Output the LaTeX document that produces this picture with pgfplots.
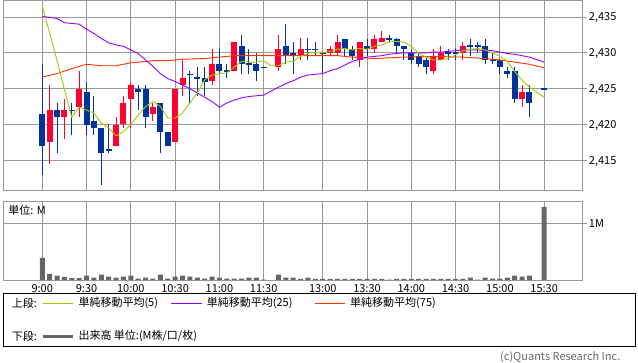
\documentclass[border=0pt]{standalone}
\usepackage{fontspec}
\setmainfont{Noto Sans CJK JP}
\usepackage{pgfplots}
\usepackage{pgfplotstable}
\pgfplotsset{compat=1.18}
\definecolor{cup}{RGB}{255,0,51}
\definecolor{cdn}{RGB}{0,51,153}
\definecolor{cma5}{RGB}{153,204,0}
\definecolor{cma25}{RGB}{153,0,255}
\definecolor{cma75}{RGB}{255,51,0}
\definecolor{cgrid}{RGB}{153,153,153}
\definecolor{cvol}{RGB}{102,102,102}

% up candles (close > open)
\pgfplotstableread{
i o h l c
1 2417.5 2425.5 2414.5 2422
3 2421 2423.5 2418 2422
5 2422.5 2427.5 2421 2425
10 2417 2421 2417 2420
11 2420 2424 2419.5 2423
12 2423.5 2426 2419.5 2425.5
15 2421.5 2423 2420.5 2422.5
18 2417.5 2425 2417.5 2425
19 2425.5 2429 2424 2426.5
23 2426 2430.5 2425.5 2428.5
26 2427.5 2431.5 2427.5 2431.5
32 2428 2432.5 2427.5 2430.5
35 2429.5 2432 2429 2430.5
39 2430 2431 2429.5 2430.5
40 2430 2432.5 2429.5 2431.5
43 2429 2431.5 2428 2431.5
45 2430.5 2432.5 2430 2432
46 2431.5 2433 2431.5 2432
53 2427.5 2430.5 2427 2429.5
54 2429 2431 2429 2430
57 2430 2431.5 2429 2431
65 2423.5 2425.5 2422.5 2424.5
}\upc

% down candles and doji
\pgfplotstableread{
i o h l c
0 2421.5 2428.5 2413 2417
2 2422 2423 2416 2421
4 2422 2423 2418.5 2422
6 2424.5 2426 2418.5 2420
7 2420.5 2424 2418.5 2419.5
8 2419.5 2419.5 2411.5 2416
9 2416.5 2420 2416 2416.5
13 2425 2425.5 2422 2424.5
14 2425 2425.5 2419.5 2421
16 2423 2423 2416 2419
17 2419 2419 2417 2417
20 2427 2427.5 2423 2427
21 2426.5 2428 2424 2426.5
22 2426.5 2428 2424 2426
24 2428.5 2430.5 2427 2427.5
25 2427.5 2428.5 2426.5 2427.5
27 2431 2432.5 2427 2428.5
28 2428.5 2430.5 2427 2428.5
29 2428.5 2430 2426 2427.5
30 2428 2428 2428 2428
33 2431 2434 2428.5 2429.5
34 2430 2431.5 2427 2429.5
36 2430.5 2432 2429 2430.5
37 2430.5 2431.5 2429.5 2430.5
38 2430 2430 2427 2430
41 2432 2432 2429.5 2430.5
42 2430.5 2431 2429 2429.5
44 2431 2432 2429.5 2430.5
47 2432 2432.5 2431.5 2432
48 2432 2432 2430 2431
49 2431 2431 2429 2430.5
50 2430 2430.5 2428.5 2429
51 2429.5 2430 2428 2428.5
52 2429 2429.5 2427 2428
55 2430 2430.5 2429 2430
56 2430 2430.5 2429 2430
58 2431 2432 2429.5 2431
59 2431 2431.5 2430 2431
60 2431 2432 2428.5 2429
61 2429 2430 2428.5 2429
62 2429 2429 2427 2428
63 2427.5 2428 2426.5 2427
64 2427.5 2428 2423 2423.5
66 2424.5 2425.5 2421 2423
68 2425 2425 2425 2425
}\dnc

\pgfplotstableread{
i v
0 2436.5
1 2432.8
2 2428.9
3 2424.9
4 2421.0
5 2422.4
6 2422.0
7 2421.6
8 2420.2
9 2419.5
10 2418.4
11 2419.0
12 2420.0
13 2421.3
14 2422.5
15 2423.2
16 2422.5
17 2420.9
18 2420.9
19 2421.6
20 2423.0
21 2424.4
22 2426.2
23 2426.9
24 2427.1
25 2427.2
26 2428.0
27 2428.8
28 2428.7
29 2428.7
30 2428.9
31 2428.2
32 2428.2
33 2428.7
34 2428.8
35 2429.5
36 2429.9
37 2430.1
38 2430.0
39 2430.2
40 2430.5
41 2430.6
42 2430.4
43 2430.6
44 2430.5
45 2430.9
46 2431.1
47 2431.5
48 2431.6
49 2431.5
50 2430.9
51 2429.9
52 2429.4
53 2429.0
54 2429.0
55 2429.2
56 2429.7
57 2430.3
58 2430.5
59 2430.6
60 2430.4
61 2430.0
62 2429.5
63 2428.8
64 2427.4
65 2426.2
66 2425.2
68 2423.8
}\maf

\pgfplotstableread{
i v
0 2435.1
2 2434.8
3 2434.2
4 2434.1
5 2434.0
6 2433.3
7 2432.7
8 2432.0
9 2431.4
10 2431.1
11 2430.9
12 2430.4
13 2429.9
14 2429.0
15 2428.1
16 2427.1
17 2426.4
18 2426.0
19 2425.5
20 2425.0
21 2424.4
22 2423.8
23 2423.2
24 2422.4
25 2423.0
26 2423.4
27 2423.7
28 2423.9
29 2424.0
30 2424.1
32 2425.2
33 2425.7
34 2426.1
35 2426.6
36 2426.9
37 2427.0
38 2427.1
39 2427.5
40 2427.8
41 2428.3
42 2428.8
43 2429.1
44 2429.4
45 2429.5
46 2429.6
47 2429.8
48 2429.9
49 2430.0
50 2430.0
51 2430.0
52 2430.0
53 2430.1
54 2430.1
55 2430.2
56 2430.3
57 2430.4
58 2430.4
59 2430.4
60 2430.3
61 2430.3
62 2430.1
63 2429.9
64 2429.8
65 2429.6
66 2429.4
68 2428.7
}\mam

\pgfplotstableread{
i v
0 2426.6
2 2427.1
4 2427.8
6 2428.4
8 2428.2
10 2428.2
12 2428.6
14 2428.8
15 2428.9
17 2428.9
19 2429.1
22 2429.2
24 2429.4
26 2429.6
29 2429.6
32 2429.6
37 2429.6
38 2429.6
40 2429.6
42 2429.4
45 2429.2
49 2429.4
53 2429.5
57 2429.4
60 2429.2
62 2429.0
64 2428.7
66 2428.4
68 2427.9
}\mas

\pgfplotstableread{
i v
0 0.39
1 0.11
2 0.076
3 0.053
4 0.035
5 0.035
6 0.076
7 0.041
8 0.094
9 0.059
10 0.041
11 0.059
12 0.076
13 0.024
14 0.041
15 0.024
16 0.094
17 0.024
18 0.059
19 0.076
20 0.059
21 0.041
22 0.024
23 0.059
24 0.041
25 0.024
26 0.024
27 0.024
28 0.041
29 0.041
30 0.006
32 0.094
33 0.041
34 0.041
35 0.018
36 0.041
37 0.018
38 0.018
39 0.018
40 0.018
41 0.018
42 0.018
43 0.018
44 0.018
45 0.018
46 0.018
47 0.006
48 0.018
49 0.018
50 0.018
51 0.018
52 0.018
53 0.018
54 0.018
55 0.018
56 0.018
57 0.018
58 0.041
59 0.006
60 0.041
61 0.024
62 0.024
63 0.041
64 0.076
65 0.059
66 0.076
68 1.29
}\vol

\pgfplotsset{
  base/.style={
    scale only axis, width=579.4pt,
    xmin=-5.28, xmax=73.22,
    axis line style={cgrid, line width=0.8pt},
    xtick={0,6,12,18,24,30,38,44,50,56,62,68},
    xmajorgrids, ymajorgrids,
    grid style={cgrid, line width=0.8pt},
    ytick pos=right, yticklabel pos=right,
    tick align=outside, major tick length=4pt,
    x tick style={draw=none},
    y tick style={cgrid, line width=0.8pt},
    every tick label/.append style={font=\fontsize{11}{13}\selectfont},
    scaled y ticks=false,
    /pgf/number format/1000 sep={,},
    /pgf/number format/assume math mode=true,
    yticklabel style={anchor=base west, inner sep=0pt, xshift=2pt, yshift=-4pt},
  },
  candle/.style={draw=none, mark=none, forget plot,
    error bars/.cd, y dir=both, y explicit, error mark=none,
    error bar style={draw=#1, line width=6pt}},
  wick/.style={draw=none, mark=none, forget plot,
    error bars/.cd, y dir=both, y explicit, error mark=none,
    error bar style={draw=#1, line width=1pt}},
}

\begin{document}
\begin{tikzpicture}
\useasboundingbox (0,0) rectangle (638pt,-362pt);

\begin{axis}[base,
  at={(3.3pt,0pt)}, anchor=north west, height=190.3pt,
  ymin=2410.81, ymax=2437.37,
  ytick={2415,2420,2425,2430,2435},
  xticklabel=\empty,
]
\addplot[wick=cup] table[x=i, y expr={(\thisrow{h}+\thisrow{l})/2}, y error expr={(\thisrow{h}-\thisrow{l})/2}] {\upc};
\addplot[wick=cdn] table[x=i, y expr={(\thisrow{h}+\thisrow{l})/2}, y error expr={(\thisrow{h}-\thisrow{l})/2}] {\dnc};
\addplot[candle=cup] table[x=i, y expr={(\thisrow{o}+\thisrow{c})/2}, y error expr={max(abs(\thisrow{o}-\thisrow{c})/2,0.07)}] {\upc};
\addplot[candle=cdn] table[x=i, y expr={(\thisrow{o}+\thisrow{c})/2}, y error expr={max(abs(\thisrow{o}-\thisrow{c})/2,0.07)}] {\dnc};
\addplot[cma75, line width=0.9pt] table[x=i, y=v] {\mas};
\addplot[cma25, line width=0.9pt] table[x=i, y=v] {\mam};
\addplot[cma5, line width=0.9pt] table[x=i, y=v] {\maf};
\end{axis}

\begin{axis}[base,
  at={(3.3pt,-201pt)}, anchor=north west, height=79pt,
  ymin=0, ymax=1.393,
  ytick={1}, yticklabels={1M},
  xticklabels={9:00,9:30,10:00,10:30,11:00,11:30,13:00,13:30,14:00,14:30,15:00,15:30},
  xticklabel style={anchor=base, inner sep=0pt, yshift=-8pt},
]
\addplot[ybar, bar width=5pt, fill=cvol, draw=none] table[x=i, y=v] {\vol};
\end{axis}

\node[anchor=west, inner sep=0pt, font=\fontsize{11}{13}\selectfont] at (8.3pt,-210pt) {単位: M};

\draw[black, line width=0.8pt] (3.3pt,-293.3pt) rectangle (635pt,-346pt);
\begin{scope}[every node/.style={anchor=west, inner sep=0pt, font=\fontsize{11}{13}\selectfont}]
\node at (11.7pt,-303.3pt) {上段:};
\draw[cma5, line width=0.9pt] (43.3pt,-303.3pt) -- (73.3pt,-303.3pt);
\node at (78.3pt,-303.3pt) {単純移動平均(5)};
\draw[cma25, line width=0.9pt] (171pt,-303.3pt) -- (201.7pt,-303.3pt);
\node at (206.7pt,-303.3pt) {単純移動平均(25)};
\draw[cma75, line width=0.9pt] (315pt,-303.3pt) -- (345pt,-303.3pt);
\node at (350pt,-303.3pt) {単純移動平均(75)};
\node at (11.7pt,-336pt) {下段:};
\draw[cvol, line width=3pt] (43.3pt,-336pt) -- (73.3pt,-336pt);
\node at (78.3pt,-336pt) {出来高 単位:(M株/口/枚)};
\node[text=cvol] at (500pt,-357.5pt) {(c)Quants Research Inc.};
\end{scope}
\end{tikzpicture}
\end{document}
